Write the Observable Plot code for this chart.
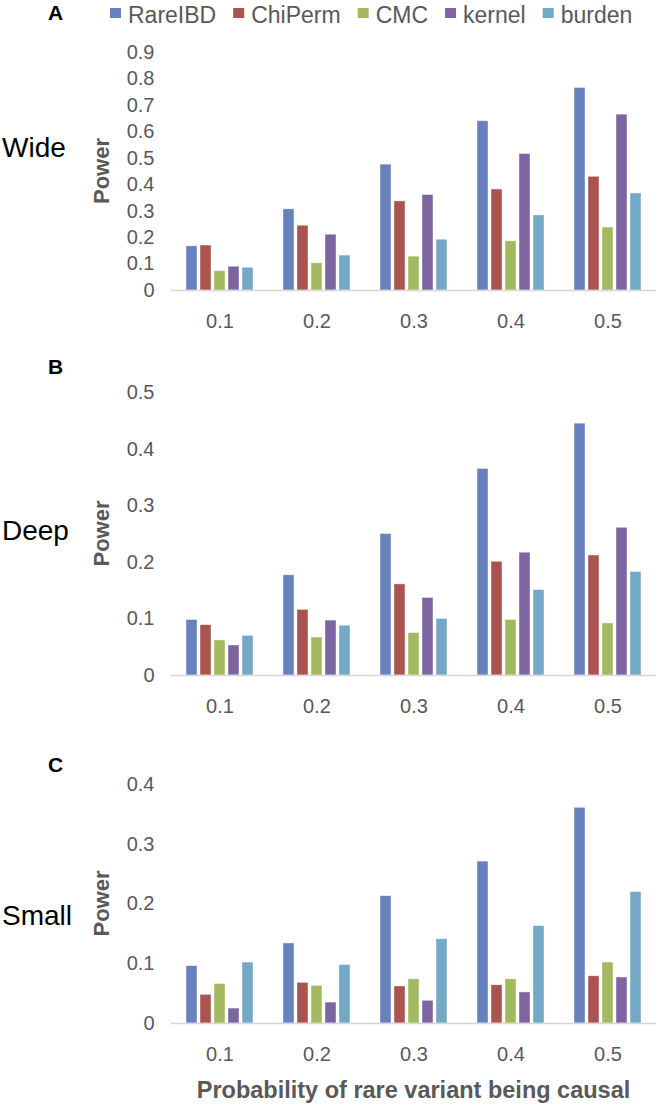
<!DOCTYPE html>
<html>
<head>
<meta charset="utf-8">
<script src="https://cdn.jsdelivr.net/npm/d3@7"></script>
<script src="https://cdn.jsdelivr.net/npm/@observablehq/plot@0.6"></script>
<style>
  body { margin: 0; background: #fff; }
  #wrap { position: relative; width: 662px; height: 1108px; background: #fff; overflow: hidden; }
  #wrap svg.plotsvg { position: absolute; left: 0; }
  #overlay { position: absolute; left: 0; top: 0; pointer-events: none; }
</style>
</head>
<body>
<div id="wrap"></div>
<script>
// ---- data ----
const probs = ["0.1", "0.2", "0.3", "0.4", "0.5"];
const methods = ["RareIBD", "ChiPerm", "CMC", "kernel", "burden"];
const colors = ["#6781bd", "#a9544f", "#a3b95f", "#7c65a1", "#73a9c6"];

// rows follow methods order, columns follow probs order
const wide = [
  [0.167, 0.307, 0.476, 0.640, 0.766],
  [0.170, 0.245, 0.337, 0.382, 0.430],
  [0.073, 0.103, 0.128, 0.186, 0.238],
  [0.090, 0.211, 0.361, 0.516, 0.665],
  [0.086, 0.132, 0.192, 0.284, 0.367]
];
const deep = [
  [0.098, 0.177, 0.250, 0.365, 0.445],
  [0.089, 0.116, 0.161, 0.201, 0.212],
  [0.062, 0.067, 0.075, 0.098, 0.092],
  [0.053, 0.097, 0.137, 0.217, 0.261],
  [0.070, 0.088, 0.100, 0.151, 0.183]
];
const small = [
  [0.096, 0.134, 0.213, 0.271, 0.361],
  [0.048, 0.068, 0.062, 0.064, 0.079],
  [0.066, 0.063, 0.074, 0.074, 0.102],
  [0.025, 0.035, 0.038, 0.052, 0.077],
  [0.102, 0.098, 0.141, 0.163, 0.220]
];
const yTicksA = [0, 0.1, 0.2, 0.3, 0.4, 0.5, 0.6, 0.7, 0.8, 0.9];
const yTicksB = [0, 0.1, 0.2, 0.3, 0.4, 0.5];
const yTicksC = [0, 0.1, 0.2, 0.3, 0.4];
const panelNames = ["Wide", "Deep", "Small"];
const panelLetters = ["A", "B", "C"];
const yLabel = "Power";
const xTitle = "Probability of rare variant being causal";

// ---- layout ----
const W = 662;
const FONT = "'Liberation Sans', Arial, Helvetica, sans-serif";
const panels = [
  {data: wide,  ticks: yTicksA, top: 40,  height: 295},
  {data: deep,  ticks: yTicksB, top: 380, height: 340},
  {data: small, ticks: yTicksC, top: 772, height: 296}
];
const mTop = 12, mBottom = 45, mLeft = 171, mRight = 6;
const wrap = document.getElementById("wrap");

panels.forEach((pn, k) => {
  const rows = [];
  methods.forEach((m, i) => probs.forEach((p, j) => rows.push({p, method: m, v: pn.data[i][j]})));
  const chart = Plot.plot({
    width: W,
    height: pn.height,
    marginTop: mTop,
    marginBottom: mBottom,
    marginLeft: mLeft,
    marginRight: mRight,
    style: {fontFamily: FONT, fontSize: "20px", color: "#595959", background: "transparent", overflow: "visible"},
    fx: {domain: probs, padding: 0, axis: "bottom", tickSize: 0, tickPadding: 23, label: null},
    x: {domain: methods, axis: null, paddingInner: 0.22, paddingOuter: 0.855},
    y: {domain: [0, d3.max(pn.ticks)], ticks: pn.ticks, tickSize: 0, tickPadding: 17, label: null,
        tickFormat: d => d === 0 ? "0" : d.toFixed(1)},
    color: {domain: methods, range: colors},
    marks: [
      Plot.barY(rows, {fx: "p", x: "method", y: "v", fill: "method", stroke: "#ffffff", strokeWidth: 0.7, strokeOpacity: 0.6}),
      Plot.ruleY([0], {stroke: "#d6d6d6", strokeWidth: 1.3})
    ]
  });
  chart.classList.add("plotsvg");
  chart.style.position = "absolute";
  chart.style.top = pn.top + "px";
  chart.style.left = "0px";
  wrap.appendChild(chart);
});

// ---- overlay text: legend, letters, panel names, axis titles ----
const ov = d3.select(wrap).append("svg").attr("id", "overlay")
  .attr("width", W).attr("height", 1108)
  .style("font-family", FONT);

// legend
let lx = 110;
methods.forEach((m, i) => {
  ov.append("rect").attr("x", lx).attr("y", 8).attr("width", 11).attr("height", 10).attr("fill", colors[i]);
  const t = ov.append("text").attr("x", lx + 18).attr("y", 23)
    .attr("font-size", 23).attr("fill", "#595959").text(m);
  lx = lx + 18 + t.node().getComputedTextLength() + 17;
});

// panel letters and names
const letterY = [20, 374, 772];
const nameY = [157, 540, 925];
const plotCenters = panels.map(pn => pn.top + mTop + (pn.height - mTop - mBottom) / 2);
panelLetters.forEach((L, k) => {
  ov.append("text").attr("x", 48).attr("y", letterY[k]).attr("font-size", 21)
    .attr("font-weight", "bold").attr("fill", "#000").text(L);
  ov.append("text").attr("x", 2).attr("y", nameY[k]).attr("font-size", 28)
    .attr("fill", "#000").text(panelNames[k]);
  ov.append("text").attr("transform", `translate(101,${plotCenters[k]}) rotate(-90)`)
    .attr("text-anchor", "middle").attr("dy", "0.35em").attr("font-size", 22)
    .attr("font-weight", "bold").attr("fill", "#595959").text(yLabel);
});

// x title
ov.append("text").attr("x", (mLeft + W - mRight) / 2).attr("y", 1098)
  .attr("text-anchor", "middle").attr("font-size", 23.5).attr("font-weight", "bold")
  .attr("fill", "#595959").text(xTitle);
</script>
</body>
</html>
